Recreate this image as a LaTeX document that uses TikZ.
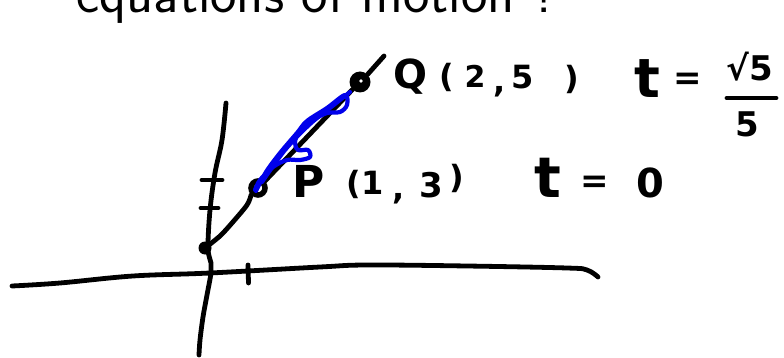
\documentclass[tikz,border=0pt]{standalone}
\usepackage{fontspec}
\newfontfamily\handfont{DejaVu Sans}
\newcommand\handsz[1]{\handfont\bfseries\fontsize{#1}{#1}\selectfont}
\tikzset{
  ink/.style={line width=4.8pt, line cap=round, line join=round, black},
  blueink/.style={line width=4.2pt, line cap=round, line join=round, color={rgb,255:red,0;green,0;blue,235}},
  hw/.style={inner sep=0pt, anchor=base},
  hwc/.style={inner sep=0pt, anchor=center},
}
\begin{document}
\begin{tikzpicture}[x=1pt,y=-1pt]
\useasboundingbox (0,0) rectangle (784,358);
\fill[white] (0,0) rectangle (784,358);
\clip (0,0) rectangle (784,358);

% title
\node[inner sep=0pt, anchor=base west, font=\sffamily\fontsize{56}{62}\selectfont] (title) at (76,13) {equations of motion ?};

% axes
\draw[ink] plot[smooth, tension=0.6] coordinates {(226,103) (222,140) (215,173) (210,210) (208,248) (211,263) (211,273) (207,295) (203,317) (200,340) (199,355)};
\draw[ink] plot[smooth, tension=0.6] coordinates {(12,286) (60,283) (133,276) (210,273) (320,267) (367,265) (467,266) (567,268) (587,270) (598,277)};
% ticks
\draw[ink] (202,180) -- (222,180);
\draw[ink] (201,208) -- (218,208);
\draw[ink] (248,265) -- (248.5,283);

% points
\coordinate (O) at (205,248);
\coordinate (E) at (384,56);
\node[circle, draw, line width=5.5pt, fill=white, inner sep=0pt, minimum size=14pt] (P) at (258,188) {};
\node[circle, fill=black, inner sep=0pt, minimum size=21pt] (Q) at (360,82) {};
\fill[white] (Q.center) ++(1,-1) circle (1.8);
\fill[black] (O) circle (6.5);

% line
\draw[ink] plot[smooth, tension=0.5] coordinates {(O) (220,236) (232,223) (247,205) (P.south west)};
\draw[ink] (P.north east) -- (Q.south west);
\draw[ink] (Q.north east) -- (E);

% blue scribble
\draw[blueink] plot[smooth, tension=0.55] coordinates {
(256,191) (266,172) (280,153) (297,133) (307,121) (327,108) (345,95) (347,105) (340,112) (327,113) (313,120) (300,130) (295,142) (298,150) (308,150) (310,157) (300,160) (287,160) (273,167) (260,180) (255,190)};
\draw[blueink] plot[smooth, tension=0.55] coordinates {(262,182) (285,150) (310,124) (335,104) (350,92)};

% labels Q row
\node[hw, font=\handsz{40}] (qQ) at (410,89) {Q};
\node[hw, font=\handsz{32}] (qlp) at (447,88) {(};
\node[hw, font=\handsz{30}] (q2) at (475,88) {2};
\node[hw, font=\handsz{32}] (qc) at (500,93) {,};
\node[hw, font=\handsz{32}] (q5) at (523,89) {5};
\node[hw, font=\handsz{32}] (qrp) at (572,90) {)};
\node[hw, font=\handsz{54}] (qt) at (647,98) {t};
\node[hwc, font=\handsz{34}] (qeq) at (688,81) {=};
\node[hw, font=\handsz{34}] (qnum) at (750,81) {√5};
\draw[ink] (727,98) -- (776,98);
\node[hw, font=\handsz{34}] (qden) at (747,137) {5};

% labels P row
\node[hw, font=\handsz{44}] (pP) at (309,197) {P};
\node[hw, font=\handsz{32}] (plp) at (354,194) {(};
\node[hw, font=\handsz{32}] (p1) at (373,195) {1};
\node[hw, font=\handsz{32}] (pc) at (399,200) {,};
\node[hw, font=\handsz{34}] (p3) at (431,197) {3};
\node[hw, font=\handsz{32}] (prp) at (457,189) {)};
\node[hw, font=\handsz{56}] (pt) at (548,197) {t};
\node[hwc, font=\handsz{34}] (peq) at (595,184) {=};
\node[hw, font=\handsz{40}] (p0) at (650,197) {0};
\end{tikzpicture}
\end{document}
